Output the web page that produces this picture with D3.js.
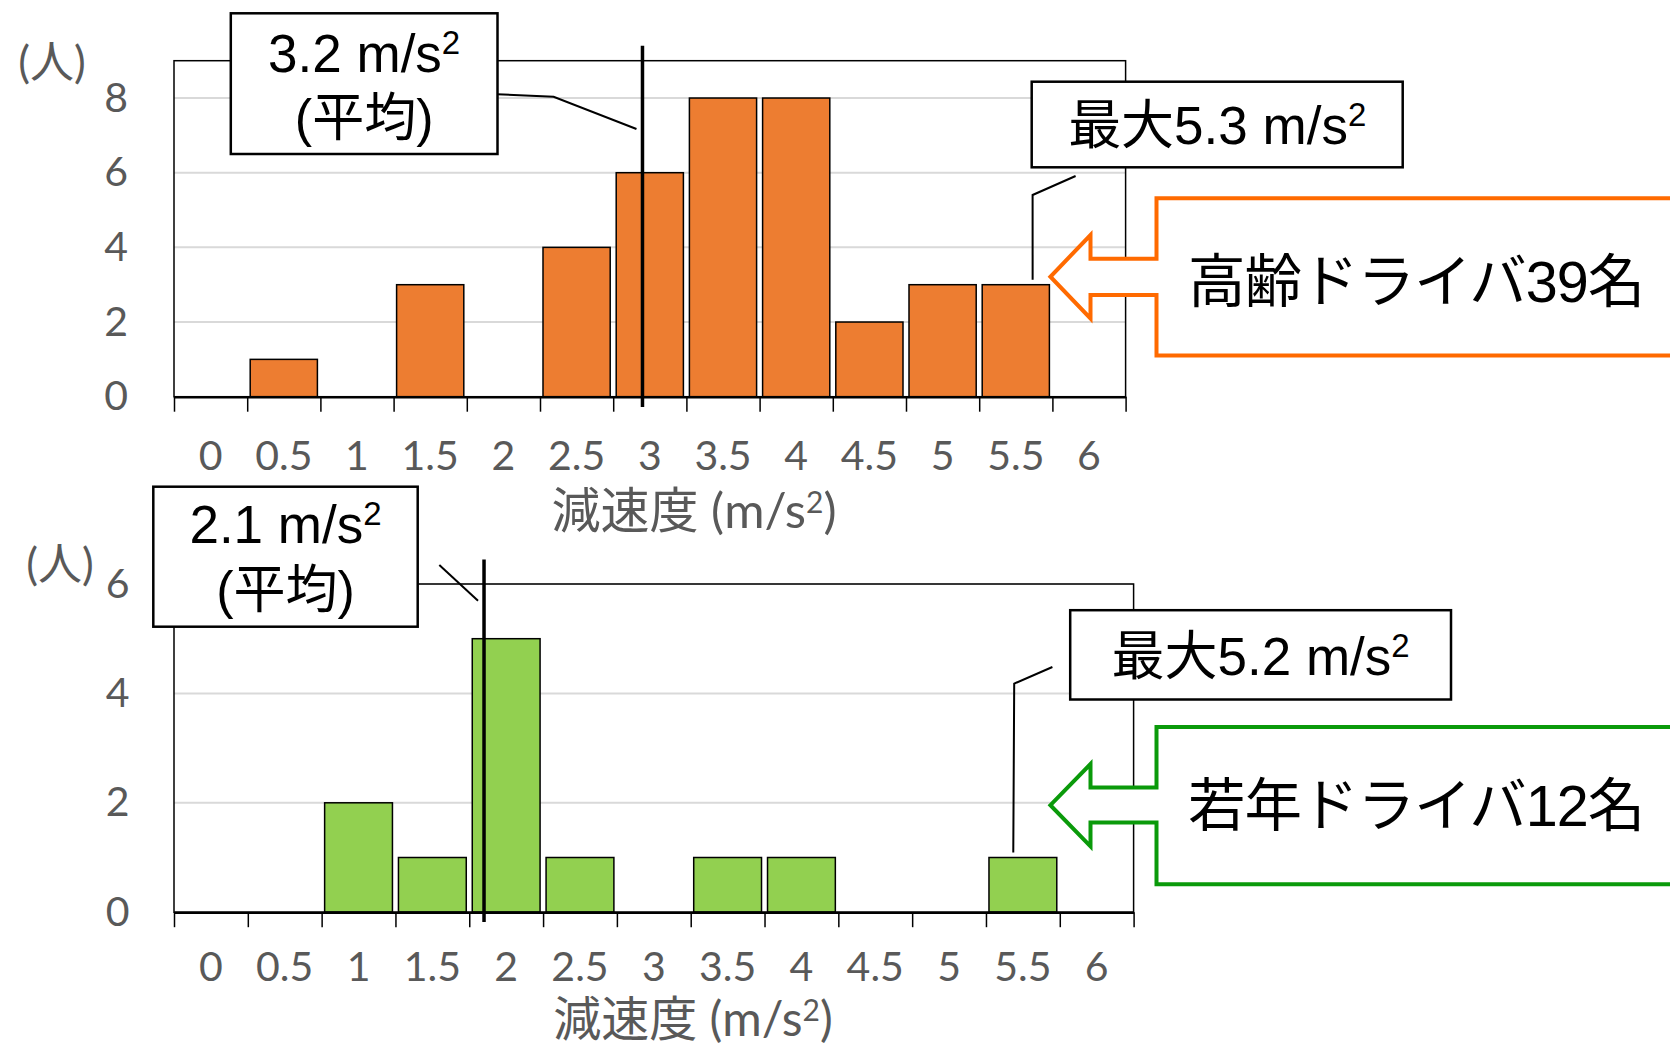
<!DOCTYPE html>
<html>
<head>
<meta charset="utf-8">
<script src="https://cdn.jsdelivr.net/npm/d3@7"></script>
<style>
  html, body { margin: 0; padding: 0; background: #fff; }
  svg { display: block; }
</style>
</head>
<body>
<svg id="chart" width="1670" height="1046"></svg>
<script>
// Histogram bins: each label marks the lower edge of a 0.5 m/s² bin
const binLabels = ["0", "0.5", "1", "1.5", "2", "2.5", "3", "3.5", "4", "4.5", "5", "5.5", "6"];
const binStarts = [0, 0.5, 1, 1.5, 2, 2.5, 3, 3.5, 4, 4.5, 5, 5.5, 6];
const binWidth = 0.5;

// Number of drivers per deceleration bin
const elderlyCounts = [0, 1, 0, 3, 0, 4, 6, 8, 8, 2, 3, 3, 0];
const youngCounts   = [0, 0, 2, 1, 5, 1, 0, 1, 1, 0, 0, 1, 0];

// Y tick values
const elderlyTicks = [0, 2, 4, 6, 8];
const youngTicks   = [0, 2, 4, 6];

// Summary statistics (m/s²) and group sizes
const elderlyMean = 3.2, elderlyMax = 5.3, elderlyN = 39;
const youngMean   = 2.1, youngMax   = 5.2, youngN   = 12;

const svg = d3.select("#chart");
const GRAY = "#595959";
const TICK_FONT = "Lato, 'Noto Sans CJK JP', sans-serif";
const NOTE_FONT = "'Liberation Sans', 'Noto Sans CJK JP', sans-serif";

// Text with a trailing superscript "2" (m/s²) and optional suffix
function unitText(parent, x, y, prefix, opts) {
  const t = parent.append("text")
    .attr("x", x).attr("y", y)
    .attr("text-anchor", opts.anchor || "middle")
    .attr("font-family", opts.font)
    .attr("font-size", opts.size)
    .attr("fill", opts.color || "#000");
  t.append("tspan").text(prefix);
  t.append("tspan").attr("font-size", opts.supSize).attr("dy", -opts.supShift).text("2");
  if (opts.suffix) t.append("tspan").attr("dy", opts.supShift).text(opts.suffix);
  return t;
}

function drawPanel(cfg) {
  const g = svg.append("g");
  const x = d3.scaleLinear()
    .domain([binStarts[0], binStarts[binStarts.length - 1] + binWidth])
    .range([cfg.left, cfg.right]);
  const y = d3.scaleLinear().domain([0, cfg.yMax]).range([cfg.bottom, cfg.top]);
  const bw = x(binWidth) - x(0);

  // horizontal gridlines
  g.selectAll("line.grid").data(cfg.ticks.filter(t => t > 0)).join("line")
    .attr("class", "grid")
    .attr("x1", cfg.left).attr("x2", cfg.right)
    .attr("y1", d => y(d)).attr("y2", d => y(d))
    .attr("stroke", "#d9d9d9").attr("stroke-width", 2);

  // bars
  const bars = binStarts.map((b, i) => ({ b, c: cfg.counts[i] })).filter(d => d.c > 0);
  const inset = 3;
  g.selectAll("rect.bar").data(bars).join("rect")
    .attr("class", "bar")
    .attr("x", d => x(d.b) + inset)
    .attr("width", d => x(d.b + binWidth) - x(d.b) - 2 * inset)
    .attr("y", d => y(d.c))
    .attr("height", d => y(0) - y(d.c))
    .attr("fill", cfg.color)
    .attr("stroke", "#000").attr("stroke-width", 1.5);

  // plot frame
  g.append("rect")
    .attr("x", cfg.left).attr("y", cfg.top)
    .attr("width", cfg.right - cfg.left).attr("height", cfg.bottom - cfg.top)
    .attr("fill", "none").attr("stroke", "#000").attr("stroke-width", 1.5);

  // x axis with bin-edge ticks
  const edges = d3.range(binStarts.length + 1).map(i => i * binWidth);
  const xAxis = d3.axisBottom(x).tickValues(edges).tickSize(15).tickSizeOuter(0).tickFormat("");
  const ax = g.append("g").attr("transform", `translate(0,${cfg.bottom})`).call(xAxis);
  ax.select(".domain").attr("stroke", "#000").attr("stroke-width", 2.5);
  ax.selectAll(".tick line").attr("stroke", "#000").attr("stroke-width", 1.5);

  // bin labels centred in each bin
  g.selectAll("text.xl").data(binLabels).join("text")
    .attr("class", "xl")
    .attr("x", (d, i) => x(binStarts[i] + binWidth / 2))
    .attr("y", cfg.xLabelBase)
    .attr("text-anchor", "middle")
    .attr("font-family", TICK_FONT).attr("font-size", 41)
    .attr("fill", GRAY)
    .text(d => d);

  // y axis labels
  const yAxis = d3.axisLeft(y).tickValues(cfg.ticks).tickSize(0)
    .tickPadding(cfg.left - cfg.yLabelRight).tickFormat(d3.format("d"));
  const ay = g.append("g").attr("transform", `translate(${cfg.left},0)`).call(yAxis);
  ay.select(".domain").remove();
  ay.selectAll("text").attr("font-family", TICK_FONT).attr("font-size", 41).attr("fill", GRAY);

  // unit label
  g.append("text")
    .attr("x", cfg.unitX).attr("y", cfg.unitY)
    .attr("text-anchor", "middle")
    .attr("font-family", TICK_FONT).attr("font-size", 44)
    .attr("fill", GRAY)
    .text("(人)");

  // x axis title
  unitText(g, cfg.titleX, cfg.titleBase, "減速度 (m/s", {
    font: TICK_FONT, size: cfg.titleSize, supSize: 30, supShift: 15, color: GRAY, suffix: ")"
  });

  // mean marker
  const mx = x(cfg.mean);
  g.append("line")
    .attr("x1", mx).attr("x2", mx)
    .attr("y1", cfg.meanTop).attr("y2", cfg.meanBottom)
    .attr("stroke", "#000").attr("stroke-width", 3.5);

  // mean callout
  const mb = cfg.meanBox;
  g.append("polyline")
    .attr("points", mb.leader.concat([[mx - 6, mb.leaderEndY]]).map(p => p.join(",")).join(" "))
    .attr("fill", "none").attr("stroke", "#000").attr("stroke-width", 2);
  g.append("rect")
    .attr("x", mb.x).attr("y", mb.y).attr("width", mb.w).attr("height", mb.h)
    .attr("fill", "#fff").attr("stroke", "#000").attr("stroke-width", 2.5);
  unitText(g, mb.x + mb.w / 2, mb.line1, `${cfg.mean.toFixed(1)} m/s`, {
    font: NOTE_FONT, size: 53, supSize: 33, supShift: 18
  });
  g.append("text")
    .attr("x", mb.x + mb.w / 2).attr("y", mb.line2)
    .attr("text-anchor", "middle")
    .attr("font-family", NOTE_FONT).attr("font-size", 52)
    .text("(平均)");

  // maximum callout, pointing at the highest occupied bin
  const lastBin = bars[bars.length - 1];
  const ex = x(lastBin.b) + cfg.maxBox.anchorFrac * bw;
  const xb = cfg.maxBox;
  g.append("polyline")
    .attr("points", xb.leader.concat([[ex, y(lastBin.c) - 5]]).map(p => p.join(",")).join(" "))
    .attr("fill", "none").attr("stroke", "#000").attr("stroke-width", 2);
  g.append("rect")
    .attr("x", xb.x).attr("y", xb.y).attr("width", xb.w).attr("height", xb.h)
    .attr("fill", "#fff").attr("stroke", "#000").attr("stroke-width", 2.5);
  unitText(g, xb.x + xb.w / 2, xb.base, `最大${cfg.max.toFixed(1)} m/s`, {
    font: NOTE_FONT, size: 53, supSize: 33, supShift: 18
  });

  // group label with left-pointing arrow
  const a = cfg.arrow;
  const path = d3.path();
  path.moveTo(1700, a.top);
  path.lineTo(a.boxX, a.top);
  path.lineTo(a.boxX, a.shaftTop);
  path.lineTo(a.headX, a.shaftTop);
  path.lineTo(a.headX, a.headTop);
  path.lineTo(a.tipX, (a.headTop + a.headBottom) / 2);
  path.lineTo(a.headX, a.headBottom);
  path.lineTo(a.headX, a.shaftBottom);
  path.lineTo(a.boxX, a.shaftBottom);
  path.lineTo(a.boxX, a.bottom);
  path.lineTo(1700, a.bottom);
  g.append("path").attr("d", path.toString())
    .attr("fill", "#fff").attr("stroke", a.color).attr("stroke-width", 4);
  g.append("text")
    .attr("x", a.textX).attr("y", a.textBase)
    .attr("font-family", NOTE_FONT).attr("font-size", 57.5)
    .attr("letter-spacing", -1)
    .attr("fill", "#000")
    .text(`${cfg.group}${cfg.n}名`);
}

drawPanel({
  counts: elderlyCounts, ticks: elderlyTicks, yMax: 9, color: "#ED7D31",
  left: 174, right: 1125.6, top: 60.7, bottom: 396.7,
  xLabelBase: 470, yLabelRight: 128, unitX: 52, unitY: 78,
  titleX: 694, titleBase: 528, titleSize: 49,
  mean: elderlyMean, meanTop: 45.7, meanBottom: 407,
  meanBox: { x: 230.8, y: 13.3, w: 266.7, h: 140.7, line1: 71.7, line2: 136,
             leader: [[497, 94.3], [553.6, 96.7]], leaderEndY: 129 },
  max: elderlyMax,
  maxBox: { x: 1031.7, y: 81.7, w: 371, h: 85.6, base: 144,
            leader: [[1075.6, 176], [1032.6, 195]], anchorFrac: 0.73 },
  group: "高齢ドライバ", n: elderlyN,
  arrow: { color: "#FF6A00", boxX: 1156.5, top: 198.3, bottom: 355.5,
           shaftTop: 258.7, shaftBottom: 295, headX: 1090.5, headTop: 235, headBottom: 318.5,
           tipX: 1050.4, textX: 1188, textBase: 302 }
});

drawPanel({
  counts: youngCounts, ticks: youngTicks, yMax: 6, color: "#92D050",
  left: 174, right: 1133.6, top: 584, bottom: 912.2,
  xLabelBase: 981, yLabelRight: 129.5, unitX: 60, unitY: 580,
  titleX: 693, titleBase: 1036, titleSize: 48,
  mean: youngMean, meanTop: 559.6, meanBottom: 922,
  meanBox: { x: 153.3, y: 486.7, w: 264.4, h: 140, line1: 543.3, line2: 607.6,
             leader: [[439.3, 565]], leaderEndY: 600.7 },
  max: youngMax,
  maxBox: { x: 1070.2, y: 610.2, w: 380.8, h: 89.3, base: 675,
            leader: [[1052.4, 667], [1014.2, 683.6]], anchorFrac: 0.37 },
  group: "若年ドライバ", n: youngN,
  arrow: { color: "#0A9A0A", boxX: 1156.5, top: 727, bottom: 884.3,
           shaftTop: 787.4, shaftBottom: 822.5, headX: 1090.5, headTop: 764, headBottom: 846.4,
           tipX: 1050.4, textX: 1188, textBase: 826 }
});
</script>
</body>
</html>
